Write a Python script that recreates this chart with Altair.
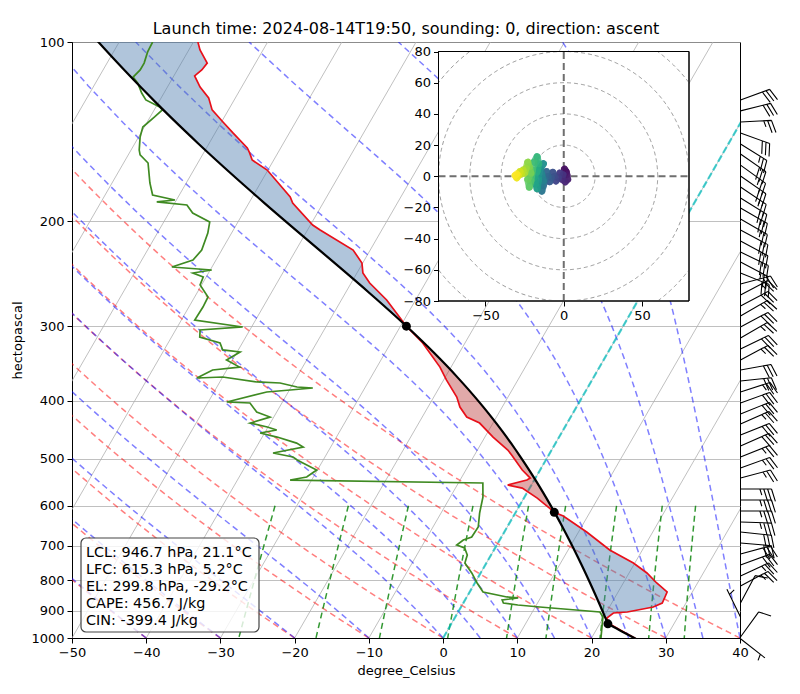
import numpy as np
import pandas as pd
import altair as alt

# ------------------------------------------------------------------ data
TITLE = "Launch time: 2024-08-14T19:50, sounding: 0, direction: ascent"

# temperature profile (hPa, degC)
TEMP_P = [100.0, 103.1, 108.5, 111.4, 114.0, 119.0, 124.1, 130.0, 136.2, 142.1,
          150.6, 153.5, 157.8, 164.0, 182.0, 186.3, 202.8, 206.8, 223.4, 234.9,
          244.1, 253.8, 270.9, 299.8, 319.9, 351.1, 369.2, 394.2, 409.7, 425.9,
          435.9, 460.1, 483.8, 493.2, 522.6, 539.0, 543.2, 553.8, 560.3, 582.4,
          610.0, 615.3, 624.3, 664.0, 711.8, 748.4, 777.8, 808.5, 837.1, 853.4,
          873.5, 887.1, 904.4, 907.9, 925.6, 946.7, 975.0, 1000.0, 1008.0]
TEMP_C = [-79.4, -78.5, -76.5, -76.7, -77.2, -75.6, -73.6, -72.2, -69.8, -67.6,
          -64.5, -63.8, -62.9, -60.1, -54.9, -54.1, -49.7, -48.3, -42.3, -40.1,
          -39.2, -37.5, -33.9, -29.2, -25.7, -21.5, -19.6, -16.9, -15.7, -14.0,
          -11.8, -8.9, -5.9, -5.0, -2.4, -0.7, -1.0, -3.2, -1.0, 1.8,
          4.7, 5.2, 6.7, 11.1, 15.6, 19.8, 22.4, 24.5, 26.6, 26.7,
          26.8, 25.9, 22.8, 21.0, 20.5, 21.3, 23.7, 25.8, 26.4]

# dewpoint profile (hPa, degC)
DEW_P = [100.0, 103.9, 108.5, 111.4, 114.5, 117.2, 121.8, 125.1, 128.5, 130.0,
         133.6, 138.9, 144.3, 151.8, 154.7, 159.6, 172.4, 180.6, 184.1, 185.5,
         187.7, 193.6, 200.5, 209.2, 223.4, 232.2, 238.5, 241.3, 244.1, 247.9,
         255.7, 267.8, 278.4, 292.7, 300.7, 304.2, 312.6, 319.9, 328.6, 331.2,
         341.6, 351.1, 355.1, 366.2, 364.8, 371.9, 373.4, 379.2, 380.7, 383.6,
         386.6, 401.8, 403.4, 417.6, 425.9, 435.9, 442.6, 447.7, 452.9, 460.1,
         470.9, 478.3, 489.4, 497.0, 502.8, 508.7, 522.6, 537.0, 543.2, 549.5,
         580.1, 617.1, 651.3, 677.0, 684.8, 698.2, 706.3, 725.7, 748.4, 777.8,
         808.5, 837.1, 853.4, 856.7, 863.4, 873.5, 880.3, 887.1, 904.4, 922.2,
         1008.0]
DEW_C = [-85.5, -85.4, -85.0, -85.0, -85.4, -84.3, -83.0, -81.9, -79.5, -78.9,
         -79.4, -80.2, -79.8, -78.9, -78.4, -76.7, -74.9, -73.6, -70.2, -72.5,
         -68.2, -66.8, -63.8, -63.2, -62.7, -63.1, -65.4, -59.8, -62.1, -60.4,
         -60.2, -58.2, -58.1, -58.2, -51.2, -56.7, -56.2, -53.0, -52.1, -49.6,
         -50.8, -48.5, -51.9, -53.4, -50.0, -45.0, -41.8, -39.2, -37.0, -39.9,
         -42.9, -47.5, -44.3, -42.7, -40.5, -42.7, -40.1, -38.6, -40.6, -38.0,
         -34.9, -33.7, -37.3, -34.3, -33.5, -32.5, -30.1, -30.9, -32.9, -6.7,
         -5.6, -4.8, -3.9, -4.0, -4.9, -5.4, -4.1, -3.2, -2.9, -1.2,
         0.3, 1.8, 5.4, 7.0, 5.0, 5.4, 7.5, 10.6, 19.1, 19.9,
         21.4]

SFC_P = 1008.0
LCL_P, LCL_T = 946.7, 21.1
LFC_P, LFC_T = 615.3, 5.2
EL_P, EL_T = 299.8, -29.2
CAPE = 456.7
CIN = -399.4

# wind barbs (hPa, direction deg, speed)
WIND_P = [125.1, 130.5, 136.2, 142.1, 148.3, 154.1, 160.9, 167.8, 175.1, 182.7,
          189.9, 198.2, 206.8, 215.8, 225.1, 233.9, 244.1, 254.7, 265.8, 277.3,
          288.2, 300.7, 313.8, 327.4, 341.6, 355.0, 370.5, 386.6, 403.4, 420.9,
          437.5, 456.5, 476.3, 497.0, 518.6, 539.0, 562.3, 586.8, 612.3, 638.8,
          663.9, 692.8, 722.8, 754.2, 787.0, 817.9, 873.6, 922.2, 996.1, 1003.0]
WIND_DIR = [70, 76, 87, 110, 122, 125, 126, 125, 124, 122,
            120, 120, 118, 118, 116, 118, 112, 75, 62, 62,
            60, 62, 60, 64, 62, 80, 84, 72, 70, 68,
            66, 68, 66, 68, 70, 75, 90, 90, 90, 92,
            96, 95, 75, 70, 65, 62, 28, 334, 36, 128]
WIND_SPD = [30, 30, 25, 30, 25, 30, 25, 30, 25, 30,
            30, 25, 30, 30, 30, 25, 30, 25, 25, 30,
            25, 30, 25, 30, 25, 30, 30, 25, 30, 30,
            25, 30, 30, 25, 25, 25, 35, 35, 35, 35,
            30, 30, 30, 30, 25, 25, 10, 5, 10, 5]

# hodograph trace (u, v), ordered bottom -> top
HODO_U = [0, 1.5, 0.5, 2, 2.5, 1, -1, -0.5, -2.5, -3.5, -5, -6, -7, -8, -9,
          -10, -11, -12, -13, -14, -15, -13, -14, -15, -13, -16, -16, -17,
          -18, -19, -17, -16, -17, -19, -20, -21, -22, -23, -21, -22, -23,
          -24, -25, -26, -27, -28, -29, -30, -31, -30]
HODO_V = [0, 3, 4.5, 1, -2, -3.5, -2, 1, 2, -1, -3, 0, 2.5, -1, -3.5,
          0, 3, -2, -6, -9.5, -6, -3, 1, 5, 8, 4, -2, -8,
          -5, -1, 3, 8, 12.5, 9, 4, -3, -7, -2, 2, 6, 9,
          5, 2, 4, 1.5, 3, 0.5, -1, 0.5, 1.5]

X_TICKS = list(range(-50, 41, 10))
P_TICKS = [100, 200, 300, 400, 500, 600, 700, 800, 900, 1000]
HODO_X_TICKS = [-50, 0, 50]
HODO_Y_TICKS = list(range(-80, 81, 20))
HODO_RINGS = [20, 40, 60, 80, 100]
MIXING_RATIOS = [0.0004, 0.001, 0.002, 0.004, 0.007, 0.01, 0.016, 0.024, 0.032]
DRY_T0 = list(range(-50, 41, 10))
MOIST_T0 = [-50, -40, -30, -20, -10, 0, 5, 10, 15, 20, 25, 30, 35, 40]
ISOTHERMS = list(range(-150, 41, 10))

assert len(TEMP_P) == len(TEMP_C) and len(DEW_P) == len(DEW_C)
assert len(WIND_P) == len(WIND_DIR) == len(WIND_SPD) and len(HODO_U) == len(HODO_V)

# ------------------------------------------------------------------ thermodynamics (diagram reference lines)
Rd, Cp, Lv, EPS = 287.04749, 1004.6662, 2.50084e6, 0.6219569
KAPPA = Rd / Cp


def sat_vp(tk):
    return 6.112 * np.exp(17.67 * (tk - 273.15) / (tk - 29.65))


def moist_rate(p, tk):
    es = sat_vp(tk)
    rs = EPS * es / (p - es)
    return (Rd * tk + Lv * rs) / (Cp + Lv * Lv * rs * EPS / (Rd * tk * tk))


def moist_lapse(pressures, t0_c, p0, dlnp=0.004):
    T = np.asarray(t0_c, float) + 273.15
    lp = np.log(p0)
    out = []
    for p in pressures:
        tgt = np.log(p)
        n = max(1, int(np.ceil(abs(tgt - lp) / dlnp)))
        h = (tgt - lp) / n
        for _ in range(n):
            k1 = moist_rate(np.exp(lp), T)
            k2 = moist_rate(np.exp(lp + h / 2), T + h / 2 * k1)
            k3 = moist_rate(np.exp(lp + h / 2), T + h / 2 * k2)
            k4 = moist_rate(np.exp(lp + h), T + h * k3)
            T = T + h / 6 * (k1 + 2 * k2 + 2 * k3 + k4)
            lp += h
        out.append(T - 273.15)
    return np.array(out)


p_bg = np.linspace(1000, 100, 50)
rows = []
for t0 in DRY_T0:
    tt = (t0 + 273.15) * (p_bg / 1000.0) ** KAPPA - 273.15
    rows += [dict(id=t0, i=k, p=p, T=t) for k, (p, t) in enumerate(zip(p_bg, tt))]
dry_df = pd.DataFrame(rows)

moist = moist_lapse(p_bg, MOIST_T0, 1000.0)
rows = []
for j, t0 in enumerate(MOIST_T0):
    rows += [dict(id=t0, i=k, p=p, T=moist[k, j]) for k, p in enumerate(p_bg)]
moist_df = pd.DataFrame(rows)

p_mix = np.linspace(600, 1000, 50)
rows = []
for w in MIXING_RATIOS:
    e = p_mix * w / (EPS + w)
    val = np.log(e / 6.112)
    td = 243.5 * val / (17.67 - val)
    rows += [dict(id=w, i=k, p=p, T=t) for k, (p, t) in enumerate(zip(p_mix, td))]
mix_df = pd.DataFrame(rows)

iso_df = pd.DataFrame([dict(id=t, i=k, p=p, T=t) for t in ISOTHERMS
                       for k, p in enumerate((1000.0, 100.0))])
zero_df = pd.DataFrame([dict(id=0, i=k, p=p, T=0.0) for k, p in enumerate((1000.0, 100.0))])

# parcel path: dry adiabat below the LCL, moist adiabat above it
p_dry = np.linspace(SFC_P, LCL_P, 8)
t_dry = (LCL_T + 273.15) * (p_dry / LCL_P) ** KAPPA - 273.15
p_wet = np.geomspace(LCL_P, 95.0, 100)[1:]
t_wet = moist_lapse(p_wet, [LCL_T], LCL_P)[:, 0]
par_p = np.concatenate([p_dry, p_wet])
par_t = np.concatenate([t_dry, t_wet])
parcel_df = pd.DataFrame(dict(i=np.arange(len(par_p)), p=par_p, T=par_t))

temp_df = pd.DataFrame(dict(i=np.arange(len(TEMP_P)), p=TEMP_P, T=TEMP_C))
dew_df = pd.DataFrame(dict(i=np.arange(len(DEW_P)), p=DEW_P, T=DEW_C))
tp_at = np.interp(np.log(TEMP_P), np.log(par_p[::-1]), par_t[::-1])
fill_df = pd.DataFrame(dict(p=TEMP_P, T=TEMP_C, Tp=tp_at,
                            hi=np.maximum(np.array(TEMP_C), tp_at)))
pts_df = pd.DataFrame(dict(p=[LCL_P, LFC_P, EL_P], T=[LCL_T, LFC_T, EL_T]))

# wind barb glyphs (SVG path, staff pointing up, rotated by the direction)
BARB_LEN = 31.0


def barb_path(speed):
    L, H, W, S = BARB_LEN, 0.4 * BARB_LEN, 0.25 * BARB_LEN, 0.125 * BARB_LEN
    spd = int(round(speed / 5.0) * 5)
    n50, rem = divmod(spd, 50)
    n10, rem = divmod(rem, 10)
    half = rem >= 5
    parts = [f"M0,0L0,{-L:.2f}"]
    off = L
    for _ in range(n50):
        parts.append(f"M0,{-off:.2f}L{H:.2f},{-(off - W / 2):.2f}L0,{-(off - W):.2f}Z")
        off -= W + S
    for _ in range(n10):
        parts.append(f"M0,{-off:.2f}L{H:.2f},{-(off + W / 2):.2f}")
        off -= S
    if half:
        if off == L:
            off -= 1.5 * S
        parts.append(f"M0,{-off:.2f}L{H / 2:.2f},{-(off + W / 4):.2f}")
    return "".join(parts)


barb_df = pd.DataFrame(dict(p=WIND_P, dir=WIND_DIR, shape=[barb_path(s) for s in WIND_SPD]))

# hodograph
seg_rows = []
for k in range(len(HODO_U) - 1):
    seg_rows.append(dict(i=k, u=HODO_U[k], v=HODO_V[k], u2=HODO_U[k + 1], v2=HODO_V[k + 1]))
trace_df = pd.DataFrame(seg_rows)

ring_rows = []
seg = 0
for r in HODO_RINGS:
    th = np.linspace(0, 2 * np.pi, 721)
    uu, vv = r * np.cos(th), r * np.sin(th)
    inside = (np.abs(uu) <= 80.01) & (np.abs(vv) <= 80.01)
    prev = False
    for k in range(len(th)):
        if inside[k]:
            if not prev:
                seg += 1
            ring_rows.append(dict(seg=seg, i=k, u=uu[k], v=vv[k]))
        prev = inside[k]
ring_df = pd.DataFrame(ring_rows)
cross_df = pd.DataFrame(dict(u=[0, -80], u2=[0, 80], v=[-80, 0], v2=[80, 0]))
frame_df = pd.DataFrame(dict(u=[-80], u2=[80], v=[-80], v2=[80]))

BOX_TEXT = "\n".join([
    f"LCL: {LCL_P} hPa, {LCL_T}°C",
    f"LFC: {LFC_P} hPa, {LFC_T}°C",
    f"EL: {EL_P} hPa, {EL_T}°C",
    f"CAPE: {CAPE} J/kg",
    f"CIN: {CIN} J/kg",
])

# ------------------------------------------------------------------ chart
W, H = 668, 596
SKEW = 46.36  # degC of shift per decade of pressure (30 degree skew)
MINUS = "replace(datum.label, '-', '\u2212')"
FONT = "DejaVu Sans"


def skew(col):
    return f"datum['{col}'] + {SKEW} * log(1000 / datum.p) / LN10"


X_SCALE = alt.Scale(domain=[-50, 40], nice=False, zero=False)
Y_SCALE = alt.Scale(type="log", domain=[100, 1000], reverse=True, nice=False)
X_AXIS = alt.Axis(values=X_TICKS, title="degree_Celsius", grid=False, labelExpr=MINUS,
                  tickSize=5, labelPadding=3, titlePadding=5, labelFlush=False)
Y_AXIS = alt.Axis(values=P_TICKS, format="d", title="hectopascal", grid=True,
                  gridColor="#b0b0b0", gridWidth=0.8, tickSize=5, labelPadding=3,
                  titlePadding=6, labelFlush=False)


def X(field="xs", **kw):
    return alt.X(f"{field}:Q", scale=X_SCALE, axis=X_AXIS, **kw)


def Y():
    return alt.Y("p:Q", scale=Y_SCALE, axis=Y_AXIS)


def bg_lines(df, **style):
    return (alt.Chart(df).transform_calculate(xs=skew("T"))
            .mark_line(clip=True, **style)
            .encode(x=X(), y=Y(), detail="id:N", order="i:Q"))


iso = bg_lines(iso_df, color="#b0b0b0", strokeWidth=0.8)
dry = bg_lines(dry_df, color="#ff0000", opacity=0.5, strokeWidth=1.5, strokeDash=[6, 4])
wet = bg_lines(moist_df, color="#0000ff", opacity=0.5, strokeWidth=1.5, strokeDash=[6, 4])
mix = bg_lines(mix_df, color="#008000", opacity=0.8, strokeWidth=1.5, strokeDash=[6, 4])
zero = bg_lines(zero_df, color="#00bfbf", opacity=0.7, strokeWidth=2.2, strokeDash=[7, 3])

fill_base = alt.Chart(fill_df).transform_calculate(xt=skew("T"), xp=skew("Tp"), xh=skew("hi"))
cape = fill_base.mark_area(orient="horizontal", color="#b83232", opacity=0.42).encode(
    y=Y(), x=X("xt", stack=None), x2=alt.X2("xh"))
cin = fill_base.mark_area(orient="horizontal", color="#4f7fb0", opacity=0.45).encode(
    y=Y(), x=X("xp", stack=None), x2=alt.X2("xh"))

temp = (alt.Chart(temp_df).transform_calculate(xs=skew("T"))
        .mark_line(color="#e8101a", strokeWidth=1.7, clip=True)
        .encode(x=X(), y=Y(), order="i:Q"))
dew = (alt.Chart(dew_df).transform_calculate(xs=skew("T"))
       .mark_line(color="#3f8a22", strokeWidth=1.7, clip=True)
       .encode(x=X(), y=Y(), order="i:Q"))
parcel = (alt.Chart(parcel_df).transform_calculate(xs=skew("T"))
          .mark_line(color="black", strokeWidth=2.2, clip=True)
          .encode(x=X(), y=Y(), order="i:Q"))
dots = (alt.Chart(pts_df).transform_calculate(xs=skew("T"))
        .mark_circle(color="black", size=80, opacity=1)
        .encode(x=X(), y=Y()))

barbs = (alt.Chart(barb_df)
         .mark_point(filled=False, color="black", strokeWidth=1.1, opacity=1, size=4)
         .encode(x=alt.value(W + 0.5), y=Y(),
                 shape=alt.Shape("shape:N", scale=None),
                 angle=alt.Angle("dir:Q", scale=None)))

box = (alt.Chart(pd.DataFrame(dict(t=[BOX_TEXT])))
       .mark_rect(fill="white", fillOpacity=0.8, stroke="#444444", strokeWidth=1.2,
                  cornerRadius=5)
       .encode(x=alt.value(9), x2=alt.value(187), y=alt.value(496), y2=alt.value(590)))
box_text = (alt.Chart(pd.DataFrame(dict(t=[BOX_TEXT])))
            .mark_text(align="left", baseline="alphabetic", lineBreak="\n", lineHeight=17.1,
                       fontSize=14.4, font=FONT, color="black")
            .encode(x=alt.value(14), y=alt.value(515), text="t:N"))
title = (alt.Chart(pd.DataFrame(dict(t=[TITLE])))
         .mark_text(align="center", baseline="alphabetic", fontSize=16, font=FONT,
                    color="black")
         .encode(x=alt.value(W / 2), y=alt.value(-7.7), text="t:N"))

main = alt.layer(iso, dry, wet, mix, zero, cape, cin, temp, dew, parcel, dots,
                 barbs, box, box_text, title)

# inset hodograph (own scales mapped onto a pixel window of the plot)
IX_SCALE = alt.Scale(domain=[-80, 80], range=[366.5, 617], nice=False, zero=False)
IY_SCALE = alt.Scale(domain=[-80, 80], range=[259, 9.5], nice=False, zero=False)
IX_AXIS = alt.Axis(values=HODO_X_TICKS, orient="bottom", offset=259 - H, grid=False,
                   title=None, domain=False, labelExpr=MINUS, tickSize=5, labelPadding=3,
                   zindex=2, labelFlush=False)
IY_AXIS = alt.Axis(values=HODO_Y_TICKS, orient="left", offset=-366.5, grid=False,
                   title=None, domain=False, labelExpr=MINUS, tickSize=5, labelPadding=3,
                   zindex=2, labelFlush=False)


def IX(f="u"):
    return alt.X(f"{f}:Q", scale=IX_SCALE, axis=IX_AXIS)


def IY(f="v"):
    return alt.Y(f"{f}:Q", scale=IY_SCALE, axis=IY_AXIS)


frame = alt.Chart(frame_df).mark_rect(fill="white", stroke="black", strokeWidth=1).encode(
    x=IX(), x2="u2:Q", y=IY(), y2="v2:Q")
rings = alt.Chart(ring_df).mark_line(color="gray", opacity=0.8, strokeWidth=1,
                                     strokeDash=[4, 3]).encode(
    x=IX(), y=IY(), detail="seg:N", order="i:Q")
cross = alt.Chart(cross_df).mark_rule(color="#6f6f6f", strokeWidth=2, strokeDash=[7, 4]).encode(
    x=IX(), x2="u2:Q", y=IY(), y2="v2:Q")
trace = alt.Chart(trace_df).mark_rule(strokeWidth=7, strokeCap="round", opacity=0.8).encode(
    x=IX(), x2="u2:Q", y=IY(), y2="v2:Q",
    color=alt.Color("i:Q", scale=alt.Scale(scheme="viridis"), legend=None))
frame_line = alt.Chart(frame_df).mark_rect(fill=None, stroke="black", strokeWidth=1).encode(
    x=IX(), x2="u2:Q", y=IY(), y2="v2:Q")

inset = alt.layer(frame, rings, cross, trace, frame_line)

chart = (alt.layer(main, inset)
         .resolve_scale(x="independent", y="independent")
         .properties(width=W, height=H,
                     autosize=alt.AutoSizeParams(type="none"),
                     padding={"left": 64, "top": 34, "right": 52, "bottom": 48})
         .configure_view(stroke="black", strokeWidth=1)
         .configure_axis(labelFont=FONT, titleFont=FONT, labelFontSize=13, titleFontSize=13,
                         labelColor="black", titleColor="black", tickColor="black",
                         domainColor="black", titleFontWeight="normal"))

chart.save("out.html", embed_options={"renderer": "svg", "actions": False})
